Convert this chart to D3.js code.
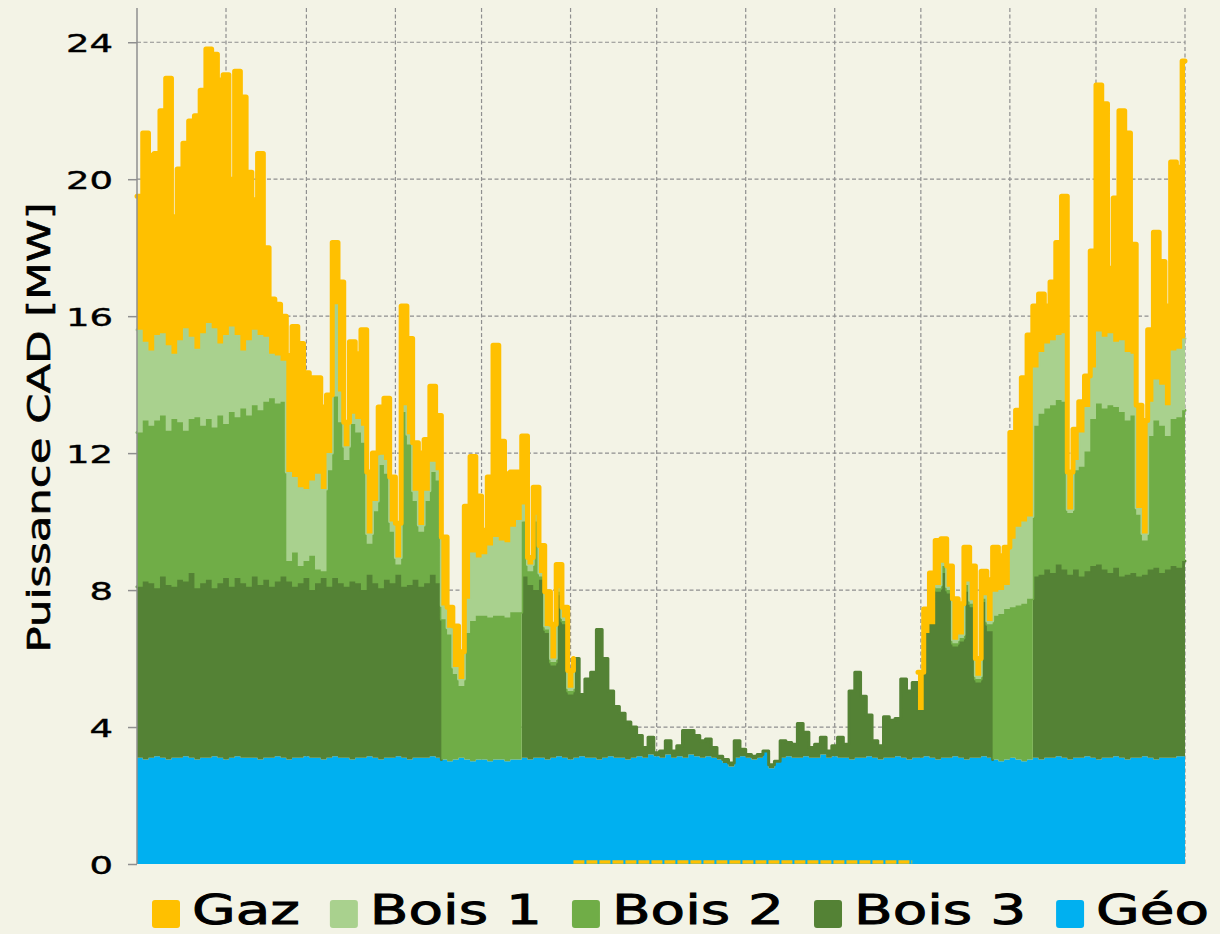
<!DOCTYPE html>
<html>
<head>
<meta charset="utf-8">
<script src="https://cdn.jsdelivr.net/npm/d3@7"></script>
<style>
  html, body { margin: 0; padding: 0; background: #f3f3e6; }
  svg { display: block; }
  text { font-family: "DejaVu Sans", sans-serif; fill: #000; }
</style>
</head>
<body>
<div id="chart"></div>
<script>
// puissance moyenne par pas de 2 jours [MW]
const stepDays = 2;

const geo = [
  3.1, 3.05, 3.1, 3.15, 3.1, 3.05, 3.1, 3.1, 3.15, 3.1,
  3.05, 3.1, 3.1, 3.15, 3.1, 3.05, 3.1, 3.15, 3.1, 3.1,
  3.1, 3.05, 3.1, 3.1, 3.15, 3.1, 3.05, 3.1, 3.1, 3.15,
  3.1, 3.1, 3.05, 3.1, 3.15, 3.1, 3.1, 3.05, 3.1, 3.1,
  3.15, 3.1, 3.05, 3.1, 3.1, 3.15, 3.1, 3.05, 3.1, 3.1,
  3.1, 3.15, 3.1, 3.05, 3.0, 3.05, 3.1, 3.05, 3.0, 3.05,
  3.05, 3.0, 3.05, 3.05, 3.0, 3.05, 3.05, 3.1, 3.05, 3.1,
  3.1, 3.05, 3.1, 3.15, 3.1, 3.05, 3.1, 3.15, 3.1, 3.1,
  3.05, 3.1, 3.15, 3.1, 3.1, 3.05, 3.1, 3.15, 3.1, 3.2,
  3.15, 3.1, 3.2, 3.1, 3.15, 3.1, 3.2, 3.15, 3.1, 3.15,
  3.1, 3.05, 2.95, 2.85, 3.1, 3.15, 3.1, 3.05, 3.1, 3.3,
  2.8, 3.0, 3.1, 3.15, 3.1, 3.1, 3.15, 3.1, 3.1, 3.2,
  3.1, 3.15, 3.1, 3.1, 3.05, 3.1, 3.1, 3.15, 3.1, 3.05,
  3.1, 3.1, 3.15, 3.1, 3.05, 3.1, 3.1, 3.15, 3.1, 3.05,
  3.1, 3.1, 3.15, 3.1, 3.05, 3.1, 3.1, 3.15, 3.1, 3.05,
  3.0, 3.05, 3.1, 3.05, 3.0, 3.05, 3.1, 3.05, 3.1, 3.1,
  3.15, 3.1, 3.05, 3.1, 3.1, 3.15, 3.1, 3.05, 3.1, 3.1,
  3.15, 3.1, 3.05, 3.1, 3.1, 3.15, 3.1, 3.05, 3.1, 3.1,
  3.1, 3.15, 3.15
];

const bois3 = [
  5.0, 5.2, 5.1, 4.9, 5.3, 5.1, 5.0, 5.2, 5.1, 5.4,
  5.0, 5.1, 5.2, 4.9, 5.1, 5.3, 5.0, 5.2, 5.1, 5.0,
  5.3, 5.1, 5.2, 5.0, 5.1, 5.3, 5.2, 5.0, 5.1, 5.2,
  4.9, 5.1, 5.3, 5.0, 5.2, 5.1, 5.0, 5.2, 5.1, 4.9,
  5.3, 5.1, 5.0, 5.2, 5.1, 5.3, 5.0, 5.1, 5.2, 5.0,
  5.1, 5.3, 5.1,
  0, 0, 0, 0, 0, 0, 0, 0, 0, 0, 0, 0, 0, 0,
  5.3, 5.1, 4.9, 5.2, 3.7, 2.7, 4.7, 3.9, 1.9,
  2.9, 1.8, 2.3, 2.5, 3.8, 2.9, 1.9, 1.5, 1.3, 1.1, 0.9, 0.6, 0.3, 0.5,
  0.1, 0.2, 0.4, 0.2, 0.3, 0.8, 0.7, 0.6, 0.5, 0.5, 0.3, 0.1,
  0.1, 0.1, 0.5, 0.2, 0.1, 0.1, 0.1, 0.0, 0.1, 0.0,
  0.5, 0.4, 0.4, 1.0, 0.7, 0.3, 0.4, 0.5, 0.2, 0.3, 0.6, 0.4,
  2.0, 2.5, 1.8, 1.2, 0.5, 0.4, 1.2, 1.1, 1.1, 2.3, 2.0, 2.2,
  1.4, 3.6, 3.9, 4.9, 5.4, 4.8, 3.2, 3.4, 4.9, 4.4, 2.2, 4.5, 3.7,
  0, 0, 0, 0, 0, 0, 0,
  5.3, 5.4, 5.5, 5.4, 5.6, 5.5, 5.4, 5.5, 5.3, 5.4,
  5.6, 5.7, 5.5, 5.4, 5.5, 5.3, 5.4, 5.4, 5.3, 5.3,
  5.5, 5.6, 5.4, 5.5, 5.6, 5.5, 5.7
];

const bois2 = [
  4.5, 4.7, 4.6, 4.9, 4.7, 4.5, 4.9, 4.6, 4.4, 4.5,
  5.0, 4.6, 4.7, 4.7, 4.9, 4.5, 5.1, 4.7, 5.1, 5.0,
  5.0, 5.1, 5.2, 5.5, 5.2, 5.1,
  0.6, 1.0, 0.5, 0.5, 1.0, 0.4, 0.2, 3.4,
  5.3, 4.7, 3.7, 4.6, 4.4, 4.3, 0.9, 2.1, 3.6, 3.1,
  1.5, 0.3, 5.1, 4.1, 2.3, 1.6, 2.4, 3.0, 3.0,
  4.1, 3.7, 2.5, 2.1, 3.7, 4.1, 4.2, 4.2, 4.2, 4.2, 4.2, 4.2, 4.3, 4.3,
  1.6, 0.4, 2.0, 0.1, 0.1, 0.1, 0.1, 0.1, 0.1,
  0, 0, 0, 0, 0, 0, 0, 0, 0, 0, 0, 0, 0, 0, 0, 0, 0, 0, 0, 0,
  0, 0, 0, 0, 0, 0, 0, 0, 0, 0, 0, 0, 0, 0, 0, 0, 0, 0, 0, 0,
  0, 0, 0, 0, 0, 0, 0, 0, 0, 0, 0, 0, 0, 0, 0, 0, 0, 0, 0, 0,
  0, 0, 0, 0.1, 0.2, 0.1, 0.1, 0.1, 0.2, 0.1, 0.1, 0.1, 0.2,
  4.2, 4.3, 4.4, 4.4, 4.5, 4.6, 4.7,
  4.4, 4.7, 4.7, 4.9, 4.8, 4.9, 1.8, 2.9, 3.2, 3.5,
  4.3, 4.7, 4.7, 4.9, 4.7, 4.8, 4.5, 4.6, 1.8, 1.0,
  3.9, 4.3, 4.3, 3.9, 4.3, 4.4, 4.4
];

const bois1 = [
  3.0, 2.3, 2.2, 2.5, 2.4, 2.5, 1.9, 2.4, 3.0, 2.4,
  2.0, 2.7, 2.8, 2.9, 2.1, 2.6, 2.5, 2.4, 1.7, 2.2,
  2.2, 2.2, 1.9, 1.3, 1.4, 1.2,
  2.6, 2.2, 2.3, 2.1, 2.2, 2.8, 2.4, 0.5,
  2.7, 0.9, 0.4, 0.3, 0.4, 0.5, 0.3, 0.3, 0.3, 0.4,
  0.3, 0.2, 0.2, 0.3, 0.3, 0.2, 0.3, 0.3, 0.3,
  0.4, 0.2, 0.2, 0.2, 1.0, 2.0, 1.7, 1.8, 2.1, 2.3, 2.2, 2.2, 2.5, 2.7,
  0.5, 0.2, 0.2, 0.1, 0.1, 0.1, 0.1, 0.1, 0.1,
  0, 0, 0, 0, 0, 0, 0, 0, 0, 0, 0, 0, 0, 0, 0, 0, 0, 0, 0, 0,
  0, 0, 0, 0, 0, 0, 0, 0, 0, 0, 0, 0, 0, 0, 0, 0, 0, 0, 0, 0,
  0, 0, 0, 0, 0, 0, 0, 0, 0, 0, 0, 0, 0, 0, 0, 0, 0, 0, 0, 0,
  0, 0, 0, 0.1, 0.1, 0.1, 0.1, 0.1, 0.1, 0.1, 0.1, 0.1, 0.1,
  0.7, 0.7, 0.7, 2.0, 2.3, 2.4, 2.4,
  1.7, 1.8, 1.9, 1.9, 1.9, 2.0, 0.1, 0.3, 1.0, 1.3,
  1.5, 2.1, 2.1, 2.1, 1.9, 2.1, 2.0, 1.8, 0.2, 0.2,
  1.0, 1.2, 1.2, 0.9, 2.0, 2.0, 2.1
];

const gaz = [
  3.9, 6.1, 5.7, 5.3, 6.5, 7.8, 4.0, 5.0, 5.4, 6.3,
  6.8, 7.1, 8.0, 8.0, 7.7, 7.6, 4.3, 7.7, 7.4, 4.9,
  3.8, 5.3, 2.6, 1.6, 1.5, 1.3,
  3.4, 4.4, 4.2, 3.4, 3.0, 2.8, 2.4, 1.7,
  1.8, 3.2, 0.7, 2.1, 1.9, 2.8, 1.8, 1.4, 1.4, 1.8,
  1.3, 1.0, 2.9, 2.8, 1.4, 2.1, 1.5, 2.2, 1.6,
  2.0, 0.6, 1.2, 0.8, 2.7, 2.8, 1.8, 0.7, 2.0, 5.6, 2.9, 2.0, 1.6, 1.4,
  2.0, 0.2, 0.8, 0.8, 1.0, 1.0, 0.7, 0.3, 0.5,
  0, 0, 0, 0, 0, 0, 0, 0, 0, 0, 0, 0, 0, 0, 0, 0, 0, 0, 0, 0,
  0, 0, 0, 0, 0, 0, 0, 0, 0, 0, 0, 0, 0, 0, 0, 0, 0, 0, 0, 0,
  0, 0, 0, 0, 0, 0, 0, 0, 0, 0, 0, 0, 0, 0, 0, 0, 0, 0, 0, 0,
  1.1, 0.7, 1.5, 1.3, 0.7, 0.6, 1.2, 0.9, 1.0, 1.0, 0.5, 0.7, 1.2,
  1.3, 1.0, 1.1, 3.1, 3.4, 4.2, 5.3,
  1.8, 1.7, 1.1, 1.7, 2.7, 4.0, 1.1, 0.9, 0.9, 0.9,
  3.4, 7.2, 6.8, 1.9, 4.2, 6.7, 6.4, 3.2, 3.0, 3.3,
  2.1, 4.3, 3.6, 2.9, 5.5, 5.3, 8.1
];

const seriesKeys = ['geo', 'bois3', 'bois2', 'bois1', 'gaz'];
const legendKeys = ['gaz', 'bois1', 'bois2', 'bois3', 'geo'];
const legendLabels = ['Gaz', 'Bois 1', 'Bois 2', 'Bois 3', 'Géo'];
const yTicks = [0, 4, 8, 12, 16, 20, 24];
const monthEnds = [31, 59, 90, 120, 151, 181, 212, 243, 273, 304, 334, 365];

const colors = {
  gaz: '#ffc000',
  bois1: '#a9d18e',
  bois2: '#70ad47',
  bois3: '#548235',
  geo: '#00b0f0'
};

const width = 1220;
const height = 934;

// table pour d3.stack
const rows = geo.map((g, i) => ({
  day: i * stepDays,
  geo: g, bois3: bois3[i], bois2: bois2[i], bois1: bois1[i], gaz: gaz[i]
}));
rows.push(Object.assign({}, rows[rows.length - 1], { day: 365 })); // fin du dernier pas

const x = d3.scaleLinear().domain([0, 365]).range([137, 1185]);
const y = d3.scaleLinear().domain([0, 25]).range([864, 8]);

const svg = d3.select('#chart')
  .append('svg')
  .attr('width', width)
  .attr('height', height);

svg.append('rect')
  .attr('width', width)
  .attr('height', height)
  .attr('fill', '#f3f3e6');

// grille
const grid = svg.append('g')
  .attr('stroke', '#8f8f8f')
  .attr('stroke-width', 1.2)
  .attr('stroke-dasharray', '4,2.5');

grid.selectAll('line.h')
  .data(yTicks.filter(t => t > 0))
  .enter()
  .append('line')
  .attr('class', 'h')
  .attr('x1', x(0))
  .attr('x2', x(365))
  .attr('y1', d => y(d))
  .attr('y2', d => y(d));

grid.selectAll('line.v')
  .data(monthEnds)
  .enter()
  .append('line')
  .attr('class', 'v')
  .attr('x1', d => x(d))
  .attr('x2', d => x(d))
  .attr('y1', y(25))
  .attr('y2', y(0));

// couches empilées
const stacked = d3.stack().keys(seriesKeys)(rows);

const area = d3.area()
  .curve(d3.curveStepAfter)
  .x(d => x(d.data.day))
  .y0(d => y(d[0]))
  .y1(d => y(d[1]));

const layers = svg.append('g');

stacked.forEach(layer => {
  const key = layer.key;
  layers.append('path')
    .datum(layer)
    .attr('d', area)
    .attr('fill', colors[key]);

  if (key === 'geo') return;

  const vals = rows.map(r => r[key]);
  const top = d3.line()
    .curve(d3.curveStepAfter)
    .defined((d, i) => vals[i] > 0 || (i > 0 && vals[i - 1] > 0))
    .x(d => x(d.data.day))
    .y(d => y(d[1]));

  layers.append('path')
    .datum(layer)
    .attr('d', top)
    .attr('fill', 'none')
    .attr('stroke', colors[key])
    .attr('stroke-width', key === 'gaz' ? 5 : 3)
    .attr('stroke-linejoin', 'round')
    .attr('stroke-linecap', 'round');
});

// marqueurs de gaz nul sur la ligne de base
const zeroGas = d3.line()
  .curve(d3.curveStepAfter)
  .defined(d => d.gaz === 0)
  .x(d => x(d.day))
  .y(() => y(0) - 2);

svg.append('path')
  .datum(rows)
  .attr('d', zeroGas)
  .attr('fill', 'none')
  .attr('stroke', colors.gaz)
  .attr('stroke-width', 3.5)
  .attr('stroke-dasharray', '11,2');

// axe Y
const stretch = 1.48;
const yAxis = svg.append('g')
  .attr('transform', `translate(${x(0)},0)`)
  .call(d3.axisLeft(y).tickValues(yTicks).tickSize(9).tickSizeOuter(0));

yAxis.select('.domain')
  .attr('stroke', '#8f8f8f')
  .attr('stroke-width', 1.5)
  .attr('d', `M0,${y(25)}V${y(0)}`);
yAxis.selectAll('.tick line')
  .attr('stroke', '#8f8f8f')
  .attr('stroke-width', 1.5);
yAxis.selectAll('.tick text')
  .attr('font-size', 25)
  .attr('font-family', '"DejaVu Sans", sans-serif')
  .attr('fill', '#000')
  .attr('stroke', '#000')
  .attr('stroke-width', 0.4)
  .attr('text-anchor', 'end')
  .attr('x', -24 / stretch)
  .attr('dy', '0.36em')
  .attr('transform', `scale(${stretch},1)`);

// titre de l'axe
svg.append('text')
  .attr('transform', `translate(50,${y(12.75)}) rotate(-90)`)
  .attr('text-anchor', 'middle')
  .attr('font-size', 32)
  .attr('stroke', '#000')
  .attr('stroke-width', 0.6)
  .attr('textLength', 450)
  .attr('lengthAdjust', 'spacingAndGlyphs')
  .text('Puissance CAD [MW]');

// légende
const legend = svg.append('g');
let lx = 152;
legendKeys.forEach((key, i) => {
  legend.append('rect')
    .attr('x', lx)
    .attr('y', 900)
    .attr('width', 28)
    .attr('height', 28)
    .attr('rx', 3)
    .attr('fill', colors[key]);

  const t = legend.append('text')
    .attr('x', lx + 40)
    .attr('y', 924)
    .attr('font-size', 40)
    .attr('stroke', '#000')
    .attr('stroke-width', 0.9)
    .text(legendLabels[i]);

  const w = t.node().getComputedTextLength() * 1.41;
  t.attr('textLength', w).attr('lengthAdjust', 'spacingAndGlyphs');
  lx += 40 + w + 30;
});
</script>
</body>
</html>
